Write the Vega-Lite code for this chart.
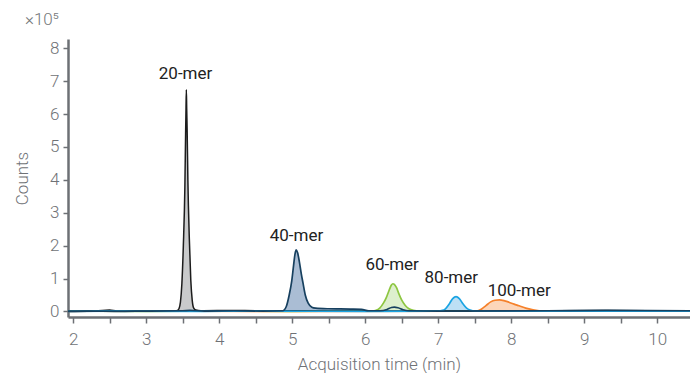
{
  "$schema": "https://vega.github.io/schema/vega-lite/v6.json",
  "width": 622,
  "height": 278,
  "autosize": "none",
  "padding": {"left": 68, "top": 39, "right": 0, "bottom": 56},
  "config": {"view": {"stroke": null}, "font": "Roboto"},
  "title": {"text": "×10⁵", "anchor": "start", "frame": "group", "dx": -43, "offset": 10, "fontSize": 17, "fontWeight": 300, "color": "#75787b"},
  "data": {"name": "traces"},
  "datasets": {
    "traces": [
      {"s": "40-mer", "x": 1.93, "y": 0.0}, {"s": "40-mer", "x": 2.2, "y": 0.01}, {"s": "40-mer", "x": 2.6, "y": 0.0}, {"s": "40-mer", "x": 3.0, "y": 0.01}, {"s": "40-mer", "x": 3.5, "y": 0.02}, {"s": "40-mer", "x": 3.6, "y": 0.03}, {"s": "40-mer", "x": 3.8, "y": 0.01}, {"s": "40-mer", "x": 4.2, "y": 0.02}, {"s": "40-mer", "x": 4.6, "y": 0.01}, {"s": "40-mer", "x": 4.87, "y": 0.02}, {"s": "40-mer", "x": 4.92, "y": 0.15}, {"s": "40-mer", "x": 4.96, "y": 0.5}, {"s": "40-mer", "x": 4.995, "y": 0.93}, {"s": "40-mer", "x": 5.02, "y": 1.4}, {"s": "40-mer", "x": 5.04, "y": 1.75}, {"s": "40-mer", "x": 5.056, "y": 1.87}, {"s": "40-mer", "x": 5.075, "y": 1.78}, {"s": "40-mer", "x": 5.1, "y": 1.5}, {"s": "40-mer", "x": 5.125, "y": 1.15}, {"s": "40-mer", "x": 5.15, "y": 0.85}, {"s": "40-mer", "x": 5.18, "y": 0.5}, {"s": "40-mer", "x": 5.22, "y": 0.25}, {"s": "40-mer", "x": 5.27, "y": 0.13}, {"s": "40-mer", "x": 5.32, "y": 0.1}, {"s": "40-mer", "x": 5.5, "y": 0.08}, {"s": "40-mer", "x": 5.8, "y": 0.07}, {"s": "40-mer", "x": 5.95, "y": 0.06}, {"s": "40-mer", "x": 6.05, "y": 0.02}, {"s": "40-mer", "x": 6.2, "y": 0.02}, {"s": "40-mer", "x": 6.3, "y": 0.06}, {"s": "40-mer", "x": 6.36, "y": 0.12}, {"s": "40-mer", "x": 6.4, "y": 0.13}, {"s": "40-mer", "x": 6.45, "y": 0.11}, {"s": "40-mer", "x": 6.52, "y": 0.05}, {"s": "40-mer", "x": 6.6, "y": 0.02}, {"s": "40-mer", "x": 7.0, "y": 0.01}, {"s": "40-mer", "x": 8.5, "y": 0.02}, {"s": "40-mer", "x": 9.3, "y": 0.03}, {"s": "40-mer", "x": 10.45, "y": 0.02},

      {"s": "20-mer", "x": 1.93, "y": 0.01}, {"s": "20-mer", "x": 2.3, "y": 0.01}, {"s": "20-mer", "x": 2.5, "y": 0.04}, {"s": "20-mer", "x": 2.6, "y": 0.01}, {"s": "20-mer", "x": 3.0, "y": 0.01}, {"s": "20-mer", "x": 3.4, "y": 0.02}, {"s": "20-mer", "x": 3.43, "y": 0.03}, {"s": "20-mer", "x": 3.45, "y": 0.08}, {"s": "20-mer", "x": 3.47, "y": 0.28}, {"s": "20-mer", "x": 3.49, "y": 0.85}, {"s": "20-mer", "x": 3.51, "y": 2.0}, {"s": "20-mer", "x": 3.531, "y": 3.8}, {"s": "20-mer", "x": 3.541, "y": 5.4}, {"s": "20-mer", "x": 3.546, "y": 6.1}, {"s": "20-mer", "x": 3.551, "y": 6.74}, {"s": "20-mer", "x": 3.556, "y": 6.15}, {"s": "20-mer", "x": 3.562, "y": 5.5}, {"s": "20-mer", "x": 3.572, "y": 4.0}, {"s": "20-mer", "x": 3.592, "y": 2.2}, {"s": "20-mer", "x": 3.612, "y": 0.95}, {"s": "20-mer", "x": 3.632, "y": 0.33}, {"s": "20-mer", "x": 3.652, "y": 0.1}, {"s": "20-mer", "x": 3.68, "y": 0.04}, {"s": "20-mer", "x": 3.75, "y": 0.02}, {"s": "20-mer", "x": 4.2, "y": 0.03}, {"s": "20-mer", "x": 4.5, "y": 0.02}, {"s": "20-mer", "x": 5.0, "y": 0.02}, {"s": "20-mer", "x": 6.0, "y": 0.01}, {"s": "20-mer", "x": 7.0, "y": 0.01}, {"s": "20-mer", "x": 8.0, "y": 0.01}, {"s": "20-mer", "x": 9.3, "y": 0.03}, {"s": "20-mer", "x": 10.45, "y": 0.01},

      {"s": "60-mer", "x": 1.93, "y": 0.01}, {"s": "60-mer", "x": 3.0, "y": 0.0}, {"s": "60-mer", "x": 4.0, "y": 0.01}, {"s": "60-mer", "x": 5.0, "y": 0.0}, {"s": "60-mer", "x": 5.8, "y": 0.01}, {"s": "60-mer", "x": 6.1, "y": 0.01}, {"s": "60-mer", "x": 6.15, "y": 0.03}, {"s": "60-mer", "x": 6.2, "y": 0.1}, {"s": "60-mer", "x": 6.25, "y": 0.25}, {"s": "60-mer", "x": 6.29, "y": 0.42}, {"s": "60-mer", "x": 6.33, "y": 0.65}, {"s": "60-mer", "x": 6.36, "y": 0.8}, {"s": "60-mer", "x": 6.38, "y": 0.84}, {"s": "60-mer", "x": 6.4, "y": 0.82}, {"s": "60-mer", "x": 6.43, "y": 0.72}, {"s": "60-mer", "x": 6.46, "y": 0.55}, {"s": "60-mer", "x": 6.5, "y": 0.35}, {"s": "60-mer", "x": 6.55, "y": 0.18}, {"s": "60-mer", "x": 6.6, "y": 0.08}, {"s": "60-mer", "x": 6.66, "y": 0.03}, {"s": "60-mer", "x": 6.74, "y": 0.01}, {"s": "60-mer", "x": 8.0, "y": 0.01}, {"s": "60-mer", "x": 10.45, "y": 0.01},

      {"s": "80-mer", "x": 1.93, "y": 0.0}, {"s": "80-mer", "x": 2.5, "y": 0.01}, {"s": "80-mer", "x": 3.8, "y": 0.0}, {"s": "80-mer", "x": 4.3, "y": 0.01}, {"s": "80-mer", "x": 6.0, "y": 0.0}, {"s": "80-mer", "x": 7.0, "y": 0.01}, {"s": "80-mer", "x": 7.06, "y": 0.03}, {"s": "80-mer", "x": 7.1, "y": 0.08}, {"s": "80-mer", "x": 7.15, "y": 0.22}, {"s": "80-mer", "x": 7.2, "y": 0.39}, {"s": "80-mer", "x": 7.245, "y": 0.45}, {"s": "80-mer", "x": 7.29, "y": 0.39}, {"s": "80-mer", "x": 7.34, "y": 0.23}, {"s": "80-mer", "x": 7.39, "y": 0.1}, {"s": "80-mer", "x": 7.44, "y": 0.04}, {"s": "80-mer", "x": 7.5, "y": 0.01}, {"s": "80-mer", "x": 10.45, "y": 0.01},

      {"s": "100-mer", "x": 1.93, "y": 0.0}, {"s": "100-mer", "x": 3.0, "y": 0.01}, {"s": "100-mer", "x": 5.0, "y": 0.0}, {"s": "100-mer", "x": 7.4, "y": 0.01}, {"s": "100-mer", "x": 7.54, "y": 0.02}, {"s": "100-mer", "x": 7.6, "y": 0.08}, {"s": "100-mer", "x": 7.655, "y": 0.175}, {"s": "100-mer", "x": 7.72, "y": 0.29}, {"s": "100-mer", "x": 7.78, "y": 0.34}, {"s": "100-mer", "x": 7.84, "y": 0.35}, {"s": "100-mer", "x": 7.9, "y": 0.33}, {"s": "100-mer", "x": 7.97, "y": 0.28}, {"s": "100-mer", "x": 8.04, "y": 0.22}, {"s": "100-mer", "x": 8.11, "y": 0.17}, {"s": "100-mer", "x": 8.2, "y": 0.1}, {"s": "100-mer", "x": 8.3, "y": 0.05}, {"s": "100-mer", "x": 8.43, "y": 0.01}, {"s": "100-mer", "x": 9.0, "y": 0.01}, {"s": "100-mer", "x": 10.45, "y": 0.01}
    ],
    "labels": [
      {"label": "20-mer", "x": 3.54, "y": 7.22},
      {"label": "40-mer", "x": 5.06, "y": 2.3},
      {"label": "60-mer", "x": 6.37, "y": 1.42},
      {"label": "80-mer", "x": 7.18, "y": 1.03},
      {"label": "100-mer", "x": 8.11, "y": 0.63}
    ]
  },
  "encoding": {
    "x": {
      "field": "x", "type": "quantitative",
      "scale": {"domain": [1.93, 10.45], "nice": false, "zero": false},
      "axis": {
        "title": "Acquisition time (min)",
        "values": [2, 2.5, 3, 3.5, 4, 4.5, 5, 5.5, 6, 6.5, 7, 7.5, 8, 8.5, 9, 9.5, 10],
        "labelExpr": "datum.value % 1 == 0 ? format(datum.value, 'd') : ''",
        "grid": false, "domainColor": "#6d7075", "domainWidth": 2.5, "tickColor": "#6d7075", "tickWidth": 1.5, "tickSize": 6,
        "labelFontSize": 17, "labelFontWeight": 300, "labelColor": "#6f7276", "labelPadding": 8, "labelFlush": false,
        "titleFontSize": 17, "titleFontWeight": 300, "titleColor": "#6f7276", "titlePadding": 9
      }
    },
    "y": {
      "field": "y", "type": "quantitative",
      "scale": {"domain": [-0.17, 8.28], "nice": false, "zero": false},
      "axis": {
        "title": "Counts",
        "values": [0, 1, 2, 3, 4, 5, 6, 7, 8],
        "grid": false, "domainColor": "#6d7075", "domainWidth": 2.5, "tickColor": "#6d7075", "tickWidth": 1.5, "tickSize": 5,
        "labelFontSize": 17, "labelFontWeight": 300, "labelColor": "#6f7276", "labelPadding": 4,
        "titleFontSize": 17, "titleFontWeight": 300, "titleColor": "#6f7276", "titlePadding": 18
      }
    }
  },
  "layer": [
    {"transform": [{"filter": "datum.s == '40-mer'"}], "mark": {"type": "area", "interpolate": "monotone", "clip": true, "fill": "#aabdd4", "fillOpacity": 1}, "encoding": {"y2": {"datum": 0}}},
    {"transform": [{"filter": "datum.s == '20-mer'"}], "mark": {"type": "area", "interpolate": "monotone", "clip": true, "fill": "#c9cacb", "fillOpacity": 1}, "encoding": {"y2": {"datum": 0}}},
    {"transform": [{"filter": "datum.s == '60-mer'"}], "mark": {"type": "area", "interpolate": "monotone", "clip": true, "fill": "#ddefcd", "fillOpacity": 1}, "encoding": {"y2": {"datum": 0}}},
    {"transform": [{"filter": "datum.s == '80-mer'"}], "mark": {"type": "area", "interpolate": "monotone", "clip": true, "fill": "#bde0f5", "fillOpacity": 1}, "encoding": {"y2": {"datum": 0}}},
    {"transform": [{"filter": "datum.s == '100-mer'"}], "mark": {"type": "area", "interpolate": "monotone", "clip": true, "fill": "#fcd6ba", "fillOpacity": 1}, "encoding": {"y2": {"datum": 0}}},
    {"transform": [{"filter": "datum.s == '100-mer'"}], "mark": {"type": "line", "interpolate": "monotone", "clip": true, "strokeWidth": 1.7, "color": "#f5812b"}, "encoding": {}},
    {"transform": [{"filter": "datum.s == '60-mer'"}], "mark": {"type": "line", "interpolate": "monotone", "clip": true, "strokeWidth": 1.7, "color": "#8dc641"}, "encoding": {}},
    {"transform": [{"filter": "datum.s == '20-mer'"}], "mark": {"type": "line", "interpolate": "monotone", "clip": true, "strokeWidth": 1.5, "color": "#1c1c1c"}, "encoding": {}},
    {"transform": [{"filter": "datum.s == '80-mer'"}], "mark": {"type": "line", "interpolate": "monotone", "clip": true, "strokeWidth": 1.7, "color": "#1ba4e3"}, "encoding": {}},
    {"transform": [{"filter": "datum.s == '40-mer'"}], "mark": {"type": "line", "interpolate": "monotone", "clip": true, "strokeWidth": 1.7, "color": "#17405f"}, "encoding": {}},
    {
      "data": {"name": "labels"},
      "mark": {"type": "text", "fontSize": 17, "color": "#222222", "baseline": "middle", "align": "center"},
      "encoding": {"text": {"field": "label"}}
    }
  ]
}
